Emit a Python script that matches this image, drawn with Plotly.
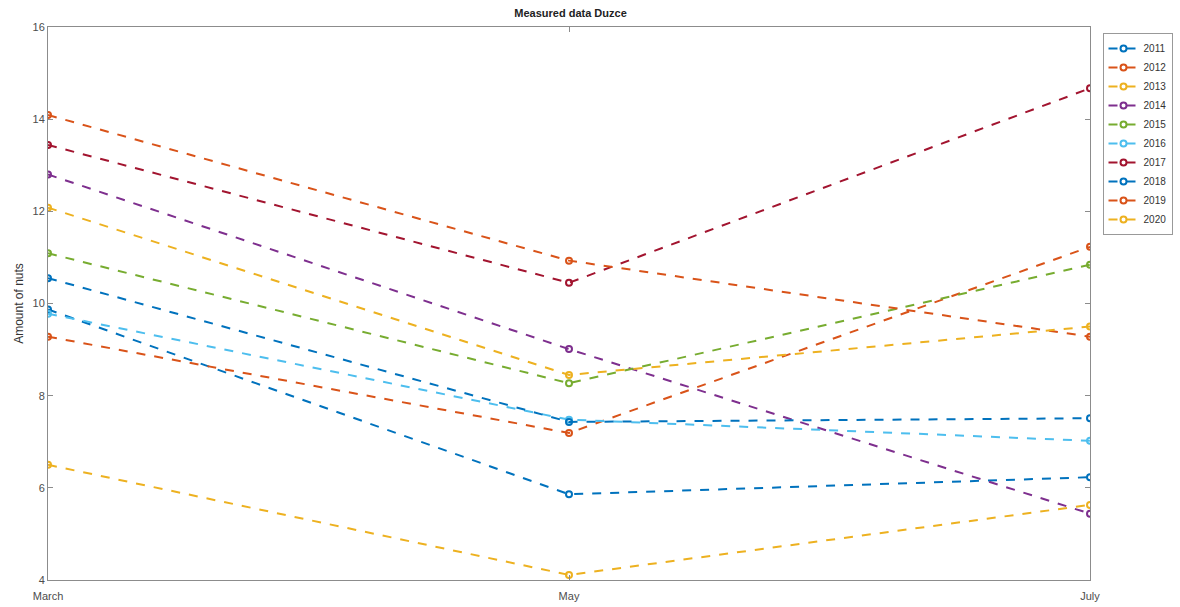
import plotly.graph_objects as go

months = ["March", "May", "July"]
years = ["2011", "2012", "2013", "2014", "2015", "2016", "2017", "2018", "2019", "2020"]

# Amount of nuts per measurement month, one list per year
y2011 = [9.87, 5.86, 6.23]
y2012 = [9.28, 7.19, 11.23]
y2013 = [6.50, 4.11, 5.63]
y2014 = [12.80, 9.01, 5.44]
y2015 = [11.09, 8.27, 10.84]
y2016 = [9.78, 7.48, 7.02]
y2017 = [13.44, 10.45, 14.67]
y2018 = [10.55, 7.43, 7.51]
y2019 = [14.09, 10.93, 9.28]
y2020 = [12.08, 8.45, 9.50]

series = [y2011, y2012, y2013, y2014, y2015, y2016, y2017, y2018, y2019, y2020]

# MATLAB default colour order, cycling after seven lines
palette = ["#0072BD", "#D95319", "#EDB120", "#7E2F8E", "#77AC30", "#4DBEEE", "#A2142F"]

fig = go.Figure()
for i, (yr, vals) in enumerate(zip(years, series)):
    c = palette[i % len(palette)]
    fig.add_trace(go.Scatter(
        x=months, y=vals, name=yr, mode="lines+markers",
        line=dict(color=c, width=2, dash="dash"),
        marker=dict(symbol="circle-open", size=6, color=c, line=dict(width=2, color=c)),
    ))

axis_font = dict(family="Liberation Sans, Arial, sans-serif", size=11, color="#4d4d4d")

fig.update_layout(
    width=1180, height=607,
    margin=dict(l=48, r=90, t=27, b=27, autoexpand=False),
    paper_bgcolor="white", plot_bgcolor="white",
    title=dict(text="<b>Measured data Duzce</b>", x=0.4835, xanchor="center",
               y=0.985, yanchor="top",
               font=dict(family="Liberation Sans, Arial, sans-serif", size=11, color="#222")),
    showlegend=True,
    legend=dict(x=1.012, xanchor="left", y=0.989, yanchor="top",
                bgcolor="white", bordercolor="#999", borderwidth=1,
                font=dict(family="Liberation Sans, Arial, sans-serif", size=10, color="#333"),
                itemwidth=30, tracegroupgap=0),
    xaxis=dict(type="category", range=[0, 2], showgrid=False, zeroline=False,
               showline=True, linecolor="#8c8c8c", linewidth=1, mirror="allticks",
               ticks="inside", ticklen=5, tickcolor="#8c8c8c",
               tickfont=axis_font, ticklabelstandoff=6),
    yaxis=dict(range=[4, 16], dtick=2, showgrid=False, zeroline=False,
               showline=True, linecolor="#8c8c8c", linewidth=1, mirror="allticks",
               ticks="inside", ticklen=5, tickcolor="#8c8c8c",
               tickfont=axis_font,
               title=dict(text="Amount of nuts", standoff=6,
                          font=dict(family="Liberation Sans, Arial, sans-serif", size=12, color="#333"))),
)

fig.write_html("out.html")
